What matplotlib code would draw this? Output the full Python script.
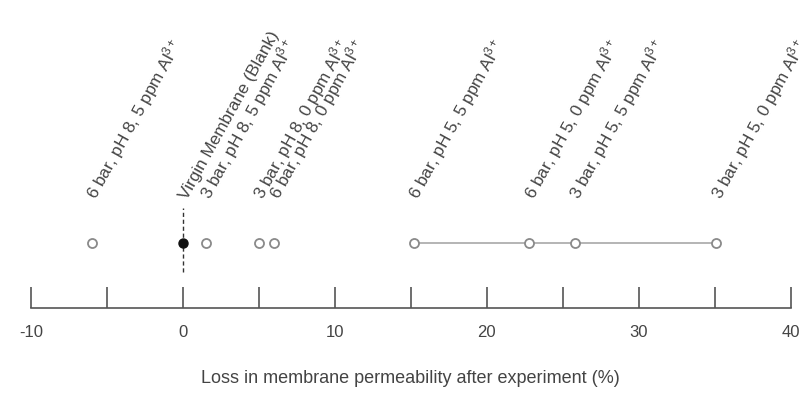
import matplotlib.pyplot as plt

plt.rcParams['font.family'] = ['Liberation Sans', 'DejaVu Sans']
plt.rcParams['mathtext.fontset'] = 'custom'
plt.rcParams['mathtext.rm'] = 'Liberation Sans'
plt.rcParams['mathtext.it'] = 'Liberation Sans'

# Loss in permeability (%) for each condition
conditions = ['6 bar, pH 8, 5 ppm Al$^{3+}$', 'Virgin Membrane (Blank)',
              '3 bar, pH 8, 5 ppm Al$^{3+}$', '3 bar, pH 8, 0 ppm Al$^{3+}$',
              '6 bar, pH 8, 0 ppm Al$^{3+}$', '6 bar, pH 5, 5 ppm Al$^{3+}$',
              '6 bar, pH 5, 0 ppm Al$^{3+}$', '3 bar, pH 5, 5 ppm Al$^{3+}$',
              '3 bar, pH 5, 0 ppm Al$^{3+}$']
loss = [-6.0, 0.0, 1.5, 5.0, 6.0, 15.2, 22.8, 25.8, 35.1]
ph5_loss = [15.2, 22.8, 25.8, 35.1]
xticks = [-10, -5, 0, 5, 10, 15, 20, 25, 30, 35, 40]
xticklabels = ['-10', '', '0', '', '10', '', '20', '', '30', '', '40']

fig = plt.figure(figsize=(8.12, 4.01), dpi=100)
ax = fig.add_axes([0.038, 0.232, 0.936, 0.768])

gray = '#8a8a8a'
txt = '#444444'

# line joining the pH 5 runs
ax.plot(ph5_loss, [1] * len(ph5_loss), color='#a8a8a8', lw=1.2, zorder=1)

# open markers for the experiments, filled one for the blank
for x, name in zip(loss, conditions):
    if x == 0:
        ax.plot(x, 1, 'o', ms=6.5, mfc='#111111', mec='#111111', zorder=3)
    else:
        ax.plot(x, 1, 'o', ms=6.5, mfc='white', mec=gray, mew=1.3, zorder=3)
    ax.text(x + 0.3, 1.66, name, rotation=61, rotation_mode='anchor',
            ha='left', va='baseline', fontsize=12.3, color=txt)

# dashed reference line at zero
ax.plot([0, 0], [0.55, 1.54], color='#333333', lw=1, ls=(0, (3, 2)), zorder=2)

ax.set_xlim(-10, 40)
ax.set_ylim(0, 4.74)
ax.set_xticks(xticks)
ax.set_xticklabels(xticklabels)
ax.tick_params(axis='x', direction='in', length=15, width=1.2, color='#555555',
               labelsize=12, labelcolor=txt, pad=12)
ax.set_yticks([])
for s in ['left', 'right', 'top']:
    ax.spines[s].set_visible(False)
ax.spines['bottom'].set_color('#555555')
ax.spines['bottom'].set_linewidth(1.2)

ax.set_xlabel('Loss in membrane permeability after experiment (%)',
              fontsize=13, color=txt, labelpad=22)

plt.savefig('out.png', dpi=100)
